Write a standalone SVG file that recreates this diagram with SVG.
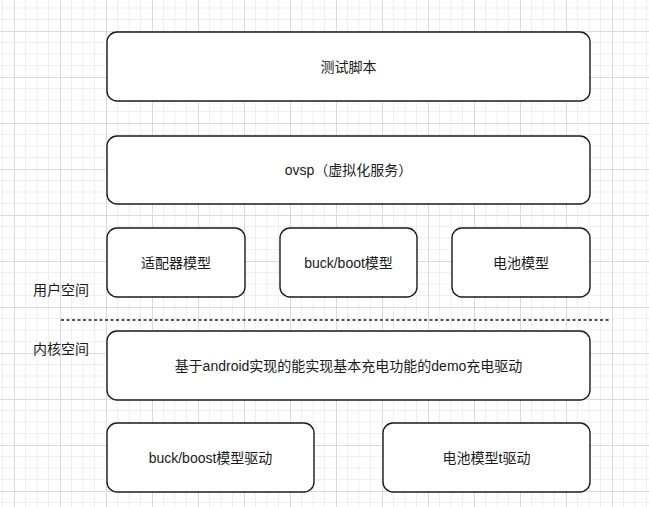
<svg xmlns="http://www.w3.org/2000/svg" width="649" height="507" viewBox="0 0 649 507">
  <defs>
    <pattern id="grid" x="14" y="31" width="46" height="46" patternUnits="userSpaceOnUse">
      <path d="M11.5 0V46M23 0V46M34.5 0V46M0 11.5H46M0 23H46M0 34.5H46" fill="none" stroke="#efefef" stroke-width="1"/>
      <path d="M0.5 0V46M0 0.5H46" fill="none" stroke="#dadada" stroke-width="1"/>
    </pattern>
    <style>
      .box { fill: #ffffff; stroke: #1a1a1a; stroke-width: 1.4; }
      .lbl { font-family: "Liberation Sans", "Noto Sans CJK SC", sans-serif; font-size: 14px; fill: #1a1a1a; text-anchor: middle; dominant-baseline: central; }
      .side { font-family: "Liberation Sans", "Noto Sans CJK SC", sans-serif; font-size: 14px; fill: #1a1a1a; dominant-baseline: central; }
      .sep { stroke: #555555; stroke-width: 2; stroke-dasharray: 3 2.5; fill: none; }
    </style>
  </defs>

  <rect width="649" height="507" fill="#ffffff"/>
  <rect width="649" height="507" fill="url(#grid)"/>

  <g id="test-script">
    <rect class="box" x="107" y="32" width="483" height="69" rx="10"/>
    <text class="lbl" x="348.5" y="67">测试脚本</text>
  </g>

  <g id="ovsp">
    <rect class="box" x="107" y="136" width="483" height="68" rx="10"/>
    <text class="lbl" x="348.5" y="170">ovsp（虚拟化服务）</text>
  </g>

  <g id="adapter-model">
    <rect class="box" x="107" y="228" width="138" height="69" rx="10"/>
    <text class="lbl" x="176" y="263">适配器模型</text>
  </g>

  <g id="buck-boot-model">
    <rect class="box" x="280" y="228" width="137" height="69" rx="10"/>
    <text class="lbl" x="348.5" y="263">buck/boot模型</text>
  </g>

  <g id="battery-model">
    <rect class="box" x="452" y="228" width="138" height="69" rx="10"/>
    <text class="lbl" x="521" y="263">电池模型</text>
  </g>

  <g id="user-space">
    <text class="side" x="33" y="290">用户空间</text>
  </g>

  <g id="connectors">
    <line class="sep" x1="61" y1="320" x2="610" y2="320"/>
  </g>

  <g id="kernel-space">
    <text class="side" x="33" y="349">内核空间</text>
  </g>

  <g id="charge-driver">
    <rect class="box" x="107" y="331" width="483" height="69" rx="10"/>
    <text class="lbl" x="348.5" y="366">基于android实现的能实现基本充电功能的demo充电驱动</text>
  </g>

  <g id="buck-boost-driver">
    <rect class="box" x="107" y="423" width="207" height="69" rx="10"/>
    <text class="lbl" x="210.5" y="458">buck/boost模型驱动</text>
  </g>

  <g id="battery-driver">
    <rect class="box" x="383" y="423" width="207" height="69" rx="10"/>
    <text class="lbl" x="486.5" y="458">电池模型t驱动</text>
  </g>
</svg>
